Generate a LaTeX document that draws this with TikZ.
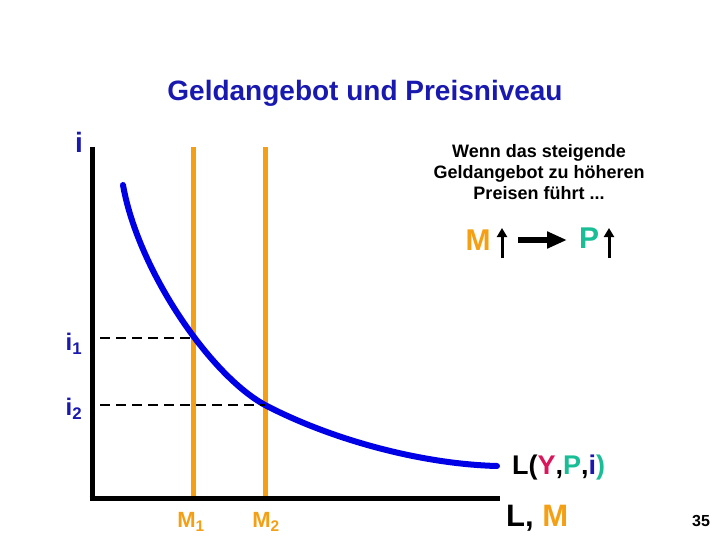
\documentclass[tikz,border=0pt]{standalone}
\usepackage{fontspec}
\setmainfont{Liberation Sans}
\usepackage{xcolor}
\usetikzlibrary{arrows.meta,positioning}

\definecolor{curveblue}{RGB}{0,0,230}
\definecolor{labelblue}{RGB}{25,25,175}
\definecolor{moneyorange}{RGB}{245,160,20}
\definecolor{priceteal}{RGB}{25,190,150}
\definecolor{incomered}{RGB}{220,20,90}

\begin{document}
\begin{tikzpicture}[
    x=1pt, y=-1pt,
    axis/.style={line width=5pt},
    supply/.style={draw=moneyorange, line width=5pt},
    demand/.style={draw=curveblue, line width=6pt, line cap=round},
    guide/.style={line width=2.8pt, dash pattern=on 10pt off 6pt},
    lbl/.style={inner sep=0pt, font=\fontsize{18}{21}\selectfont\bfseries},
    uparr/.style={-{Triangle[length=9pt,width=10pt]}, line width=3pt},
]
\useasboundingbox (0,0) rectangle (720,540);

% title and axes
\node[inner sep=0pt, text=labelblue, font=\fontsize{28}{32}\selectfont\bfseries] (title) at (365,93) {Geldangebot und Preisniveau};
\coordinate (O) at (92,498);
\coordinate (ytop) at (92,147);
\coordinate (xend) at (500,498);
\draw[axis] (ytop) -- (O |- 0,500.5);
\draw[axis] (89.5,498) -- (xend);
\node[lbl, text=labelblue, font=\fontsize{28}{32}\selectfont\bfseries] (ilabel) at (79,142) {i};

% money supply
\coordinate (m1top) at (193,147);
\coordinate (m1bot) at (193,496);
\coordinate (m2top) at (265,147);
\coordinate (m2bot) at (265,496);
\draw[supply] (m1top) -- (m1bot);
\draw[supply] (m2top) -- (m2bot);
\node[lbl, text=moneyorange, font=\fontsize{22}{26}\selectfont\bfseries] (M1) at (191,522) {M\textsubscript{1}};
\node[lbl, text=moneyorange, font=\fontsize{22}{26}\selectfont\bfseries] (M2) at (266,522) {M\textsubscript{2}};

% money demand
\coordinate (A) at (192,338);
\coordinate (B) at (265,405);
\draw[demand] (123,185) .. controls (138,270) and (210,375) .. (B)
  .. controls (330,439) and (420,464) .. (497,466);

% interest rates
\coordinate (i1start) at (100,338);
\coordinate (i2start) at (100,405);
\draw[guide] (i1start) -- (A);
\draw[guide] (i2start) -- (B);
\node[lbl, text=labelblue, font=\fontsize{24}{28}\selectfont\bfseries] (i1) at (74,344) {i\textsubscript{1}};
\node[lbl, text=labelblue, font=\fontsize{24}{28}\selectfont\bfseries] (i2) at (74,409) {i\textsubscript{2}};

\node[lbl, font=\fontsize{27}{30}\selectfont\bfseries, anchor=west] (Lfun) at (512,468)
  {L(\textcolor{incomered}{Y},\textcolor{priceteal}{P},\textcolor{labelblue}{i}\textcolor{priceteal}{)}};
\node[inner sep=0pt, font=\fontsize{31}{36}\selectfont\bfseries, anchor=west] (LM) at (506,518)
  {L, \textcolor{moneyorange}{M}};
\node[lbl, font=\fontsize{16}{18}\selectfont\bfseries] (page) at (701,521) {35};

% text box
\node[lbl, align=center] (note) at (539,172) {Wenn das steigende\\Geldangebot zu höheren\\Preisen führt ...};
\node[lbl, text=moneyorange, font=\fontsize{30}{34}\selectfont\bfseries] (Mup) at (478,240) {M};
\node[lbl, text=priceteal, font=\fontsize{30}{34}\selectfont\bfseries] (Pup) at (589,238) {P};
\coordinate (mbot) at (502,258);
\coordinate (mtop) at (502,228);
\coordinate (pbot) at (609,258);
\coordinate (ptop) at (609,228);
\draw[uparr] (mbot) -- (mtop);
\draw[uparr] (pbot) -- (ptop);
\coordinate (arrstart) at (518,240);
\coordinate (arrend) at (567,240);
\draw[-{Triangle[length=20pt,width=16pt]}, line width=6pt] (arrstart) -- (arrend);
\end{tikzpicture}
\end{document}
